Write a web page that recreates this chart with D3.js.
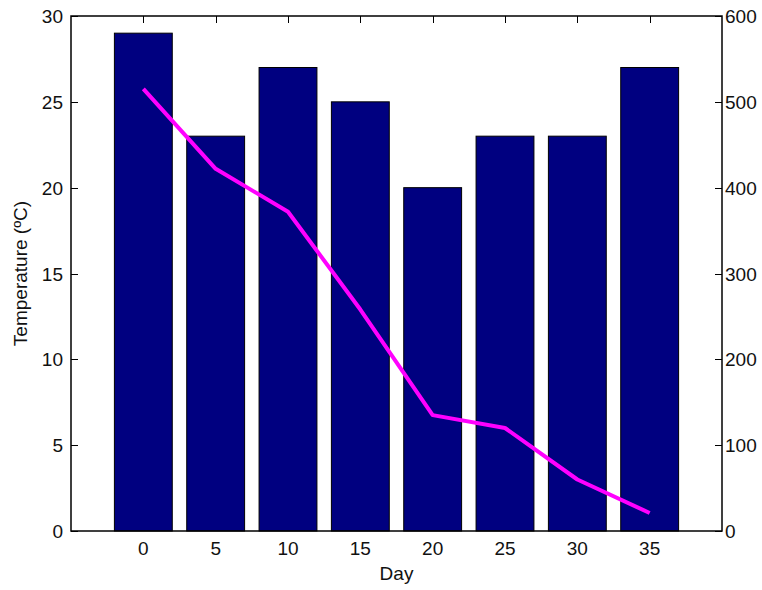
<!DOCTYPE html>
<html><head><meta charset="utf-8">
<script src="https://cdn.jsdelivr.net/npm/d3@7"></script>
<style>
body{margin:0;background:#fff;}
text{font-family:"Liberation Sans",Arial,sans-serif;fill:#111;}
</style></head>
<body><svg id="c" width="762" height="590"></svg>
<script>
const days = [0, 5, 10, 15, 20, 25, 30, 35];
const temperature = [29, 23, 27, 25, 20, 23, 23, 27];
const lineValues = [515, 422, 372, 258, 135, 120, 60, 21];
const leftTicks = [0, 5, 10, 15, 20, 25, 30];
const rightTicks = [0, 100, 200, 300, 400, 500, 600];
const xTicks = [0, 5, 10, 15, 20, 25, 30, 35];

const svg = d3.select("#c");
const L = 71, R = 722, T = 16, B = 531;
const x = d3.scaleLinear().domain([-5, 40]).range([L, R]);
const yL = d3.scaleLinear().domain([0, 30]).range([B, T]);
const yR = d3.scaleLinear().domain([0, 600]).range([B, T]);
const fs = 19, tk = 7;

// ticks (inward)
const gT = svg.append("g").attr("stroke", "#000").attr("stroke-width", 1);
xTicks.forEach(d => {
  gT.append("line").attr("x1", Math.round(x(d)) + .5).attr("x2", Math.round(x(d)) + .5).attr("y1", T).attr("y2", T + tk);
  gT.append("line").attr("x1", Math.round(x(d)) + .5).attr("x2", Math.round(x(d)) + .5).attr("y1", B).attr("y2", B - tk);
});
leftTicks.forEach(d => {
  gT.append("line").attr("x1", L).attr("x2", L + tk).attr("y1", Math.round(yL(d)) + .5).attr("y2", Math.round(yL(d)) + .5);
});
rightTicks.forEach(d => {
  gT.append("line").attr("x1", R).attr("x2", R - tk).attr("y1", Math.round(yR(d)) + .5).attr("y2", Math.round(yR(d)) + .5);
});

// bars
const bw = 4;
svg.append("g").selectAll("rect").data(days).join("rect")
  .attr("x", (d) => x(d - bw / 2))
  .attr("width", (d) => x(bw) - x(0))
  .attr("y", (d, i) => yL(temperature[i]))
  .attr("height", (d, i) => B - yL(temperature[i]))
  .attr("fill", "#000080").attr("stroke", "#000").attr("stroke-width", 1);

// line
svg.append("path").datum(days)
  .attr("d", d3.line().x(d => x(d)).y((d, i) => yR(lineValues[i])))
  .attr("fill", "none").attr("stroke", "#ff00ff").attr("stroke-width", 4).attr("stroke-linejoin", "round");

// frame
svg.append("rect").attr("x", L).attr("y", T).attr("width", R - L).attr("height", B - T)
  .attr("fill", "none").attr("stroke", "#000").attr("stroke-width", 1.5);

// labels
svg.append("g").selectAll("text").data(xTicks).join("text")
  .attr("x", d => x(d)).attr("y", B + 24).attr("text-anchor", "middle").attr("font-size", fs).text(d => d);
svg.append("g").selectAll("text").data(leftTicks).join("text")
  .attr("x", L - 8).attr("y", d => yL(d) + 7).attr("text-anchor", "end").attr("font-size", fs).text(d => d);
svg.append("g").selectAll("text").data(rightTicks).join("text")
  .attr("x", R + 3).attr("y", d => yR(d) + 7).attr("text-anchor", "start").attr("font-size", fs).text(d => d);

svg.append("text").attr("x", x(17.5)).attr("y", 580).attr("text-anchor", "middle").attr("font-size", fs).text("Day");
svg.append("text").attr("transform", `translate(27,${(T + B) / 2}) rotate(-90)`).attr("text-anchor", "middle").attr("font-size", 19).text("Temperature (ºC)");
</script></body></html>
